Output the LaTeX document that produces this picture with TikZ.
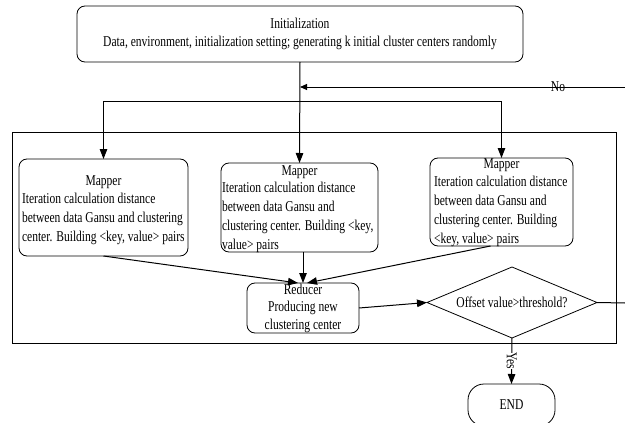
\documentclass[tikz,border=0pt]{standalone}
\usepackage{fontspec}
\setmainfont[FakeStretch=0.77]{Liberation Serif}
\usetikzlibrary{shapes.geometric,arrows.meta}

\begin{document}
\begin{tikzpicture}[x=1pt,y=-1pt,
  every node/.style={font=\fontsize{15}{18.7}\selectfont, inner sep=0pt, outer sep=0pt},
  box/.style={draw, rounded corners=8pt, line width=0.8pt},
  conn/.style={line width=1pt},
  arr/.style={conn, -{Triangle[length=10pt,width=7.5pt]}},
  arrsmall/.style={conn, -{Triangle[length=7pt,width=6pt]}},
  head/.style={anchor=base},
  % body texts are placed by the baseline of their last line
  body/.style={anchor=base west, align=left}]
\useasboundingbox (0,0) rectangle (625,423);

% outer frame around the map/reduce stage
\node[draw, line width=0.9pt, minimum width=604pt, minimum height=211pt] (frame) at (314,237.5) {};

% initialization
\node[box, minimum width=446pt, minimum height=56pt, align=center,
      font=\fontsize{15}{18}\selectfont] (init) at (300,34)
  {Initialization\\Data, environment, initialization setting; generating k initial cluster centers randomly};

% mappers
\node[box, minimum width=169pt, minimum height=97pt] (m1) at (103.5,207.5) {};
\node[box, minimum width=157pt, minimum height=89pt] (m2) at (299.5,207.5) {};
\node[box, minimum width=143pt, minimum height=88pt] (m3) at (501.5,202) {};

\node[head] (m1h) at (103.5,185) {Mapper};
\node[body] (m1b) at (22,241) {Iteration calculation distance\\between data Gansu and clustering\\center. Building <key, value> pairs};
\node[head] (m2h) at (299.5,175) {Mapper};
\node[body] (m2b) at (222,249) {Iteration calculation distance\\between data Gansu and\\clustering center. Building <key,\\value> pairs};
\node[head] (m3h) at (501.5,168) {Mapper};
\node[body] (m3b) at (434,243) {Iteration calculation distance\\between data Gansu and\\clustering center. Building\\<key, value> pairs};

% reducer
\node[box, minimum width=112pt, minimum height=50pt, align=center,
      font=\fontsize{15}{17.5}\selectfont] (red) at (303,308)
  {Reducer\\Producing new\\clustering center};

% decision
\node[draw, diamond, aspect=2.4, line width=0.8pt, minimum width=170pt, minimum height=71pt] (dia) at (512,302.5)
  {Offset value>threshold?};

% end terminal
\node[draw, rounded corners=16pt, line width=0.8pt, minimum width=87pt, minimum height=42pt] (end) at (511.5,405) {END};

% loop-back ends at the right border
\coordinate (loopin) at (625,87);
\coordinate (loopout) at (625,303);
\coordinate (dl) at (103.5,101);
\coordinate (dr) at (501.5,101);

% connectors
\draw[arr] (init.south) -- (m2.north);
\draw[conn] (dl) -- (dr);
\draw[arr] (dl) -- (m1.north);
\draw[arr] (dr) -- (m3.north);
\draw[arrsmall] (loopin) -- (loopin -| init.south);
\node (no) at (558,86.5) {No};
\draw[arr] (m1.south) -- ([xshift=-5pt]red.north);
\draw[arr] (m2.south -| red.north) -- (red.north);
\draw[arr] ([xshift=-11pt]m3.south) -- ([xshift=4pt]red.north);
\draw[arr] (red.east) -- (dia.west);
\draw[conn] (dia.east) -- (loopout);
\draw[arr] (dia.south) -- node[midway, rotate=-90, fill=white] (yes) {Yes} (end.north);
\end{tikzpicture}
\end{document}
